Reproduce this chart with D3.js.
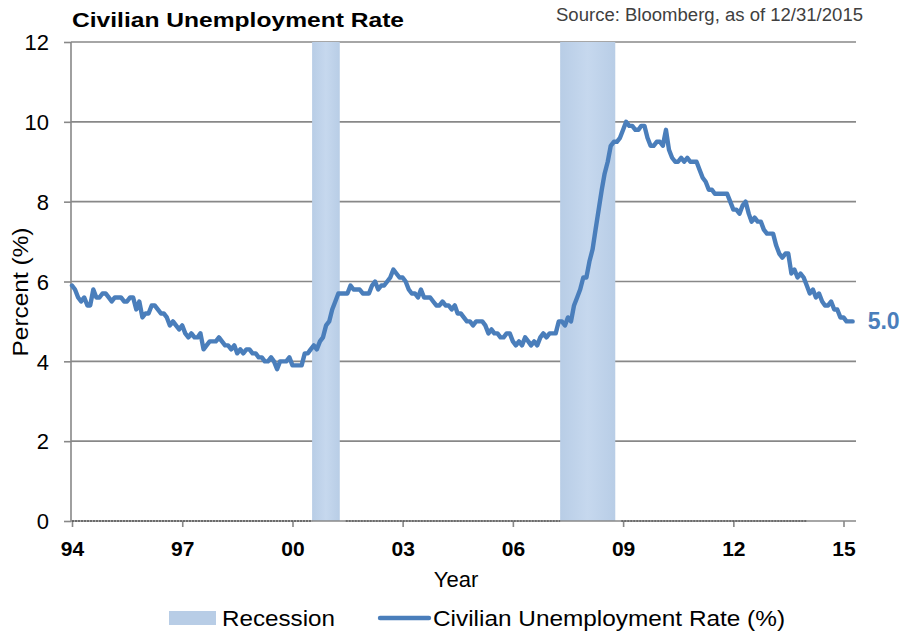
<!DOCTYPE html>
<html><head><meta charset="utf-8">
<script src="https://cdn.jsdelivr.net/npm/d3@7"></script>
<style>body{margin:0;background:#fff}svg{display:block;font-family:Arial,"Liberation Sans",sans-serif}</style>
</head><body><svg id="c" width="902" height="633"></svg>
<script>
// Monthly civilian unemployment rate (%), Sep 1994 – Dec 2015
const startYear = 1994, startMonth = 8; // Sep 1994 (0-based month)
const rates = [
  5.9,5.8,5.6,5.5,
  5.6,5.4,5.4,5.8,5.6,5.6,5.7,5.7,5.6,5.5,5.6,5.6,
  5.6,5.5,5.5,5.6,5.6,5.3,5.5,5.1,5.2,5.2,5.4,5.4,
  5.3,5.2,5.2,5.1,4.9,5.0,4.9,4.8,4.9,4.7,4.6,4.7,
  4.6,4.6,4.7,4.3,4.4,4.5,4.5,4.5,4.6,4.5,4.4,4.4,
  4.3,4.4,4.2,4.3,4.2,4.3,4.3,4.2,4.2,4.1,4.1,4.0,
  4.0,4.1,4.0,3.8,4.0,4.0,4.0,4.1,3.9,3.9,3.9,3.9,
  4.2,4.2,4.3,4.4,4.3,4.5,4.6,4.9,5.0,5.3,5.5,5.7,
  5.7,5.7,5.7,5.9,5.8,5.8,5.8,5.7,5.7,5.7,5.9,6.0,
  5.8,5.9,5.9,6.0,6.1,6.3,6.2,6.1,6.1,6.0,5.8,5.7,
  5.7,5.6,5.8,5.6,5.6,5.6,5.5,5.4,5.4,5.5,5.4,5.4,
  5.3,5.4,5.2,5.2,5.1,5.0,5.0,4.9,5.0,5.0,5.0,4.9,
  4.7,4.8,4.7,4.7,4.6,4.6,4.7,4.7,4.5,4.4,4.5,4.4,
  4.6,4.5,4.4,4.5,4.4,4.6,4.7,4.6,4.7,4.7,4.7,5.0,
  5.0,4.9,5.1,5.0,5.4,5.6,5.8,6.1,6.1,6.5,6.8,7.3,
  7.8,8.3,8.7,9.0,9.4,9.5,9.5,9.6,9.8,10.0,9.9,9.9,
  9.8,9.8,9.9,9.9,9.6,9.4,9.4,9.5,9.5,9.4,9.8,9.3,
  9.1,9.0,9.0,9.1,9.0,9.1,9.0,9.0,9.0,8.8,8.6,8.5,
  8.3,8.3,8.2,8.2,8.2,8.2,8.2,8.0,7.8,7.8,7.7,7.9,
  8.0,7.7,7.5,7.6,7.5,7.5,7.3,7.2,7.2,7.2,6.9,6.7,
  6.6,6.7,6.7,6.2,6.3,6.1,6.2,6.1,5.9,5.7,5.8,5.6,
  5.7,5.5,5.4,5.4,5.5,5.3,5.3,5.1,5.1,5.0,5.0,5.0
];
// Recession periods (monthly columns, mid-month edges)
const recessions = [
  ["2001-03-15","2001-12-15"],
  ["2007-12-15","2009-06-15"]
];
// Recession series (zero baseline) ends Sep 2014
const recessionSeriesEnd = "2014-09-01";
const yTicks = [0,2,4,6,8,10,12];
const xTickYears = [1994,1997,2000,2003,2006,2009,2012,2015];
const lastLabel = "5.0";

const svg = d3.select("#c");
const parse = d3.utcParse("%Y-%m-%d");
const data = rates.map((v,i)=>({date:new Date(Date.UTC(startYear, startMonth+i, 1)), v}));

const x = d3.scaleUtc()
  .domain([new Date(Date.UTC(1994,8,1)), new Date(Date.UTC(2015,8,1))])
  .range([72, 843.5]);
const y = d3.scaleLinear().domain([0,12]).range([521,42]);
const left = 71, right = 856;
const grid = "#888888";
const blue = "#4A7EBB";

// gridlines
svg.append("g").selectAll("line").data(yTicks.filter(d=>d>0)).join("line")
  .attr("x1",left).attr("x2",right).attr("y1",d=>y(d)).attr("y2",d=>y(d))
  .attr("stroke",grid).attr("stroke-width",1.6);

// recession bands
const grad = svg.append("defs").append("linearGradient").attr("id","rg");
grad.append("stop").attr("offset","0%").attr("stop-color","#B8CDE6");
grad.append("stop").attr("offset","50%").attr("stop-color","#C6D8EE");
grad.append("stop").attr("offset","100%").attr("stop-color","#B8CDE6");
svg.append("g").selectAll("rect").data(recessions).join("rect")
  .attr("x",d=>x(parse(d[0]))).attr("width",d=>x(parse(d[1]))-x(parse(d[0])))
  .attr("y",y(12)).attr("height",y(0)-y(12))
  .attr("fill","url(#rg)");

// axes
const yAxis = svg.append("g").attr("transform",`translate(${left},0)`)
  .call(d3.axisLeft(y).tickValues(yTicks).tickSize(7).tickPadding(15).tickFormat(d3.format("d")));
yAxis.select(".domain").attr("stroke",grid).attr("stroke-width",1.6).attr("d",`M0,${y(12)}V${y(0)}`);
yAxis.selectAll(".tick line").attr("stroke",grid).attr("stroke-width",1.6);
yAxis.selectAll("text").attr("font-size",22).attr("fill","#000")
  .attr("font-family","Arial, 'Liberation Sans'").attr("dy","0.35em");

const xAxis = svg.append("g").attr("transform",`translate(0,${y(0)})`)
  .call(d3.axisBottom(x).tickValues(xTickYears.map(yr=>new Date(Date.UTC(yr,8,1))))
    .tickSize(6).tickPadding(14).tickFormat(d3.utcFormat("%y")));
xAxis.select(".domain").attr("stroke",grid).attr("stroke-width",1.6).attr("d",`M${left},0H${right}`);
xAxis.selectAll(".tick line").attr("stroke",grid).attr("stroke-width",1.6);
xAxis.selectAll("text").attr("font-size",21).attr("font-weight","bold").attr("fill","#000")
  .attr("font-family","Arial, 'Liberation Sans'");

// dashed zero baseline of recession series (outside recession bands)
const segs = [];
let s = x(data[0].date);
recessions.forEach(r=>{ segs.push([s, x(parse(r[0]))]); s = x(parse(r[1])) + 6; });
segs.push([s, x(parse(recessionSeriesEnd))]);
svg.append("g").selectAll("line").data(segs).join("line")
  .attr("x1",d=>d[0]).attr("x2",d=>d[1]).attr("y1",y(0)).attr("y2",y(0))
  .attr("stroke","#333").attr("stroke-width",1).attr("stroke-dasharray","2,1");

// line
svg.append("path").datum(data)
  .attr("d", d3.line().x(d=>x(d.date)).y(d=>y(d.v)))
  .attr("fill","none").attr("stroke",blue).attr("stroke-width",4.4)
  .attr("stroke-linejoin","round").attr("stroke-linecap","round");

// last value label
const last = data[data.length-1];
svg.append("text").attr("x",x(last.date)+15).attr("y",y(last.v)+8)
  .attr("font-size",23).attr("font-weight","bold").attr("fill",blue).text(lastLabel);

// titles
svg.append("text").attr("x",72).attr("y",27).attr("font-size",20).attr("font-weight","bold")
  .attr("textLength",332).attr("lengthAdjust","spacingAndGlyphs").text("Civilian Unemployment Rate");
svg.append("text").attr("x",556).attr("y",21).attr("font-size",18)
  .attr("textLength",307).attr("lengthAdjust","spacingAndGlyphs")
  .attr("fill","#404040").text("Source: Bloomberg, as of 12/31/2015");
svg.append("text").attr("transform","translate(28,292) rotate(-90)").attr("text-anchor","middle")
  .attr("font-size",22).attr("textLength",129).attr("lengthAdjust","spacingAndGlyphs").text("Percent (%)");
svg.append("text").attr("x",456).attr("y",587).attr("text-anchor","middle").attr("font-size",22).text("Year");

// legend
const lg = svg.append("g");
lg.append("rect").attr("x",169).attr("y",611).attr("width",47).attr("height",14).attr("fill","#B8CDE6");
lg.append("text").attr("x",222).attr("y",626).attr("font-size",22)
  .attr("textLength",113).attr("lengthAdjust","spacingAndGlyphs").text("Recession");
lg.append("line").attr("x1",380).attr("x2",429).attr("y1",618).attr("y2",618)
  .attr("stroke",blue).attr("stroke-width",4.4).attr("stroke-linecap","round");
lg.append("text").attr("x",433).attr("y",626).attr("font-size",22)
  .attr("textLength",352).attr("lengthAdjust","spacingAndGlyphs").text("Civilian Unemployment Rate (%)");
</script></body></html>
